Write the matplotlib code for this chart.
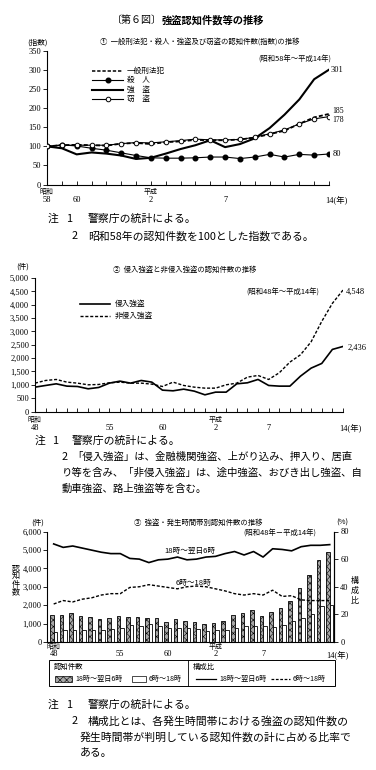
import matplotlib
matplotlib.use("Agg")
import matplotlib.pyplot as plt
from matplotlib.lines import Line2D
from matplotlib.patches import Rectangle
import numpy as np

plt.rcParams['font.family'] = ['Noto Sans CJK JP', 'DejaVu Sans']
plt.rcParams['hatch.linewidth'] = 0.4
SERIF = ['Liberation Serif', 'Noto Sans CJK JP']
TS = 6.0  # tick label size

# ---------------- data ----------------
# Chart 1: index (S58 = 100), S58(1983) .. H14(2002)
years1 = list(range(20))
general = [100, 103, 104, 103, 102, 107, 109, 106, 111, 113, 117, 116, 116, 118, 123, 132, 141, 159, 176, 185]
murder = [100, 104, 101, 95, 90, 83, 76, 70, 69, 69, 70, 72, 72, 68, 72, 79, 72, 79, 77, 80]
robbery = [100, 95, 79, 84, 81, 76, 67, 70, 81, 93, 103, 116, 98, 106, 121, 148, 183, 223, 276, 301]
theft = [100, 103, 103, 103, 103, 107, 110, 109, 112, 115, 119, 117, 117, 118, 124, 133, 143, 159, 172, 178]
xt1_pos = [0, 2, 7, 12, 19]
xt1_lab = ["昭和\n58", "60", "平成\n2", "7", "14"]

# Chart 2: S48(1973) .. H14(2002)
years2 = list(range(30))
invasive = [912, 975, 1037, 950, 937, 850, 900, 1062, 1137, 1062, 1162, 1100, 800, 775, 837,
            762, 625, 725, 725, 1037, 1075, 1200, 975, 950, 950, 1325, 1625, 1800, 2325, 2436]
noninvasive = [1062, 1162, 1200, 1100, 1062, 1000, 1012, 1075, 1100, 1062, 1062, 1025, 937, 1100, 975,
               912, 875, 875, 1000, 1062, 1287, 1350, 1200, 1450, 1850, 2125, 2612, 3375, 4050, 4548]
xt2_pos = [0, 7, 12, 17, 22, 29]
xt2_lab = ["昭和\n48", "55", "60", "平成\n2", "7", "14"]

# Chart 3: counts by time of day and composition ratio
night_cnt = [1455, 1490, 1600, 1436, 1380, 1255, 1290, 1436, 1380, 1364, 1327, 1327, 1110, 1236, 1145,
             1073, 1000, 1036, 1145, 1473, 1582, 1727, 1436, 1655, 1873, 2218, 2945, 3636, 4436, 4890]
day_cnt = [527, 636, 673, 673, 673, 673, 727, 782, 945, 890, 982, 890, 782, 782, 782,
           709, 618, 655, 655, 764, 891, 891, 891, 836, 945, 1145, 1309, 1527, 1945, 2036]
night_pct = [71, 68.5, 69.5, 68, 66.5, 65, 64, 64, 60.5, 60, 57.5, 59.5, 60, 61.5, 59.5,
             60, 61.5, 62, 64, 65.5, 63, 65.5, 61.5, 67.5, 67, 66, 69, 70, 70, 70.5]
day_pct = [27.5, 30, 29, 31, 32, 34, 35, 35, 39.5, 40, 41.5, 40.5, 39.5, 38.5, 40,
           40.5, 40, 38.5, 37, 35, 34, 35, 34, 37.5, 33, 33.5, 30.5, 30, 30, 30]
xt3_pos = [0, 7, 12, 17, 22, 29]
xt3_lab = ["昭和\n48", "55", "60", "平成\n2", "7", "14"]

W, H = 376, 770
fig = plt.figure(figsize=(W / 100, H / 100), dpi=100)


def axpx(l, t, r, b):
    return fig.add_axes([l / W, 1 - b / H, (r - l) / W, (b - t) / H])


def ftext(x, y, s, **kw):
    kw.setdefault('va', 'center')
    return fig.text(x / W, 1 - y / H, s, **kw)


def fline(x0, x1, y, **kw):
    fig.add_artist(Line2D([x0 / W, x1 / W], [1 - y / H, 1 - y / H], transform=fig.transFigure, **kw))


def style_axes(ax, right=False):
    ax.spines['top'].set_visible(False)
    if not right:
        ax.spines['right'].set_visible(False)
    for s in ax.spines.values():
        s.set_linewidth(0.8)
    ax.tick_params(axis='y', direction='out', length=3, width=0.6, pad=1.2, labelsize=TS)
    ax.tick_params(axis='x', direction='in', length=3, width=0.6, labelbottom=False)
    for lab in ax.get_yticklabels():
        lab.set_family(SERIF)


def xlabels(ax, pos, labs, y_top):
    for p, l in zip(pos, labs):
        xpx = ax.transData.transform((p, 0))[0]
        if "\n" in l:
            a, b = l.split("\n")
            ftext(xpx, y_top, a, ha='center', fontsize=5.0)
            ftext(xpx, y_top + 7.5, b, ha='center', fontsize=TS, family=SERIF)
        elif l == "14":
            ftext(xpx - 3.5, y_top + 7.5, "14(年)", ha='left', fontsize=TS, family=SERIF)
        else:
            ftext(xpx, y_top + 7.5, l, ha='center', fontsize=TS, family=SERIF)


# ---------------- title ----------------
ftext(112, 20, "〔第６図〕", ha='left', fontsize=7.2)
ftext(162, 20, "強盗認知件数等の推移", ha='left', fontsize=7.4, fontweight='bold')

# ---------------- chart 1 ----------------
ax1 = axpx(47, 51, 329, 184.5)
ax1.set_xlim(0, 19)
ax1.set_ylim(0, 350)
ax1.set_yticks(range(0, 351, 50))
ax1.set_xticks(years1)
style_axes(ax1)
ax1.plot(years1, general, color='black', lw=1.3, ls=(0, (2.2, 1.2)), zorder=3)
ax1.plot(years1, murder, color='black', lw=0.8, marker='o', ms=3.3, mfc='black', zorder=4)
ax1.plot(years1, robbery, color='black', lw=1.5, zorder=3)
ax1.plot(years1, theft, color='black', lw=0.8, marker='o', ms=3.3, mfc='white', mew=0.7, zorder=4)
fig.canvas.draw()
xlabels(ax1, xt1_pos, xt1_lab, 192)
ftext(331, 70, "301", ha='left', fontsize=TS, family=SERIF)
ftext(332, 111, "185", ha='left', fontsize=5.6, family=SERIF)
ftext(332, 119.5, "178", ha='left', fontsize=5.6, family=SERIF)
ftext(333, 154, "80", ha='left', fontsize=TS, family=SERIF)
ftext(37, 43, "(指数)", ha='center', fontsize=5.5)
ftext(200, 42, "①  一般刑法犯・殺人・強盗及び窃盗の認知件数(指数)の推移", ha='center', fontsize=5.3)
ftext(295, 60, "(昭和58年～平成14年)", ha='center', fontsize=5.3)
# legend
leg1 = [("一般刑法犯", dict(lw=1.1, ls=(0, (2.2, 1.2)))),
        ("殺　人", dict(lw=0.8, marker='o', ms=3.3, mfc='black', markevery=[1])),
        ("強　盗", dict(lw=1.5)),
        ("窃　盗", dict(lw=0.8, marker='o', ms=3.3, mfc='white', mew=0.7, markevery=[1]))]
for k, (lab, st) in enumerate(leg1):
    y = 71 + k * 9.4
    fig.add_artist(Line2D([92 / W, 107.5 / W, 123 / W], [1 - y / H] * 3, transform=fig.transFigure,
                          color='black', **st))
    ftext(127, y, lab, ha='left', fontsize=5.5)

# notes 1
ftext(48, 219, "注", ha='left', fontsize=7.8)
ftext(66, 219, "1", ha='left', fontsize=7.8)
ftext(88, 219, "警察庁の統計による。", ha='left', fontsize=7.8)
ftext(72, 236, "2", ha='left', fontsize=7.8)
ftext(88, 236, "昭和58年の認知件数を100とした指数である。", ha='left', fontsize=7.8)

# ---------------- chart 2 ----------------
ax2 = axpx(35, 278, 343, 411.5)
ax2.set_xlim(0, 29)
ax2.set_ylim(0, 5000)
ax2.set_yticks(range(0, 5001, 500))
ax2.set_yticklabels([f"{v:,}" for v in range(0, 5001, 500)])
ax2.set_xticks(years2)
style_axes(ax2)
ax2.plot(years2, invasive, color='black', lw=1.2)
ax2.plot(years2, noninvasive, color='black', lw=1.0, ls=(0, (2.2, 1.3)))
fig.canvas.draw()
xlabels(ax2, xt2_pos, xt2_lab, 420)
ftext(346, 292, "4,548", ha='left', fontsize=TS, family=SERIF)
ftext(348, 348, "2,436", ha='left', fontsize=TS, family=SERIF)
ftext(23, 267, "(件)", ha='center', fontsize=5.5)
ftext(185, 270, "②  侵入強盗と非侵入強盗の認知件数の推移", ha='center', fontsize=5.3)
ftext(283, 293, "(昭和48年～平成14年)", ha='center', fontsize=5.3)
fline(80, 110, 304, color='black', lw=1.2)
ftext(115, 304, "侵入強盗", ha='left', fontsize=5.5)
fline(80, 110, 316, color='black', lw=1.0, ls=(0, (2.2, 1.3)))
ftext(115, 316, "非侵入強盗", ha='left', fontsize=5.5)

# notes 2
ftext(35, 441, "注", ha='left', fontsize=7.8)
ftext(52, 441, "1", ha='left', fontsize=7.8)
ftext(72, 441, "警察庁の統計による。", ha='left', fontsize=7.8)
ftext(62, 457, "2", ha='left', fontsize=7.8)
ftext(72, 457, "「侵入強盗」は、金融機関強盗、上がり込み、押入り、居直", ha='left', fontsize=7.5)
ftext(62, 473, "り等を含み、「非侵入強盗」は、途中強盗、おびき出し強盗、自", ha='left', fontsize=7.5)
ftext(62, 489, "動車強盗、路上強盗等を含む。", ha='left', fontsize=7.5)

# ---------------- chart 3 ----------------
ax3 = axpx(47.3, 531.5, 334, 642)
ax3.set_xlim(-0.67, 29.45)
ax3.set_ylim(0, 6000)
ax3.set_yticks(range(0, 6001, 1000))
ax3.set_yticklabels([f"{v:,}" for v in range(0, 6001, 1000)])
ax3.set_xticks([])
style_axes(ax3, right=True)
x3 = np.arange(30)
bw = 0.37
ax3.bar(x3 - bw / 2, night_cnt, width=bw, facecolor='#a8a8a8', edgecolor='black', lw=0.6, hatch='xxxxx')
ax3.bar(x3 + bw / 2, day_cnt, width=bw, facecolor='white', edgecolor='black', lw=0.6)
ax3b = ax3.twinx()
ax3b.set_ylim(0, 80)
ax3b.set_xlim(-0.67, 29.45)
ax3b.set_yticks(range(0, 81, 20))
for s in ['top', 'left', 'bottom']:
    ax3b.spines[s].set_visible(False)
ax3b.spines['right'].set_linewidth(0.8)
ax3b.tick_params(axis='y', direction='out', length=3, width=0.6, pad=1.5, labelsize=TS)
for lab in ax3b.get_yticklabels():
    lab.set_family(SERIF)
ax3b.plot(x3, night_pct, color='black', lw=1.2)
ax3b.plot(x3, day_pct, color='black', lw=1.0, ls=(0, (2.2, 1.3)))
fig.canvas.draw()
xlabels(ax3, xt3_pos, xt3_lab, 647)
ftext(190, 551, "18時～翌日6時", ha='center', fontsize=5.5)
ftext(193, 583, "6時～18時", ha='center', fontsize=5.5)
ftext(38, 523, "(件)", ha='center', fontsize=5.5)
ftext(342, 523, "(%)", ha='center', fontsize=5.5)
ftext(198, 523, "③  強盗・発生時間帯別認知件数の推移", ha='center', fontsize=5.3)
ftext(280, 534, "(昭和48年－平成14年)", ha='center', fontsize=5.3)
for k, ch in enumerate("認知件数"):
    ftext(16, 568 + k * 8, ch, ha='center', fontsize=5.8)
for k, ch in enumerate("構成比"):
    ftext(355, 581 + k * 9.5, ch, ha='center', fontsize=5.8)

# legend box
fig.add_artist(Rectangle((49 / W, 1 - 686 / H), (335 - 49) / W, 26 / H, transform=fig.transFigure,
                         facecolor='none', edgecolor='black', lw=0.7))
fig.add_artist(Line2D([188 / W, 188 / W], [1 - 660 / H, 1 - 686 / H], transform=fig.transFigure,
                      color='black', lw=0.6))
ftext(54, 667, "認知件数", ha='left', fontsize=5.3)
ftext(193, 667, "構成比", ha='left', fontsize=5.3)
fig.add_artist(Rectangle((55 / W, 1 - 682 / H), 17 / W, 6 / H, transform=fig.transFigure,
                         facecolor='#a8a8a8', edgecolor='black', lw=0.5, hatch='xxxxx'))
ftext(75, 679, "18時～翌日6時", ha='left', fontsize=5.1)
fig.add_artist(Rectangle((132 / W, 1 - 682 / H), 14 / W, 6 / H, transform=fig.transFigure,
                         facecolor='white', edgecolor='black', lw=0.5))
ftext(149, 679, "6時～18時", ha='left', fontsize=5.1)
fline(196, 216, 679, color='black', lw=0.9)
ftext(219, 679, "18時～翌日6時", ha='left', fontsize=5.1)
fline(271, 290, 679, color='black', lw=0.9, ls=(0, (2.2, 1.3)))
ftext(293, 679, "6時～18時", ha='left', fontsize=5.1)

# notes 3
ftext(48, 705, "注", ha='left', fontsize=7.8)
ftext(66, 705, "1", ha='left', fontsize=7.8)
ftext(88, 705, "警察庁の統計による。", ha='left', fontsize=7.8)
ftext(72, 721, "2", ha='left', fontsize=7.8)
ftext(88, 721, "構成比とは、各発生時間帯における強盗の認知件数の", ha='left', fontsize=7.8)
ftext(80, 737, "発生時間帯が判明している認知件数の計に占める比率で", ha='left', fontsize=7.8)
ftext(80, 753, "ある。", ha='left', fontsize=7.8)

fig.savefig("out.png", dpi=100, facecolor='white')
